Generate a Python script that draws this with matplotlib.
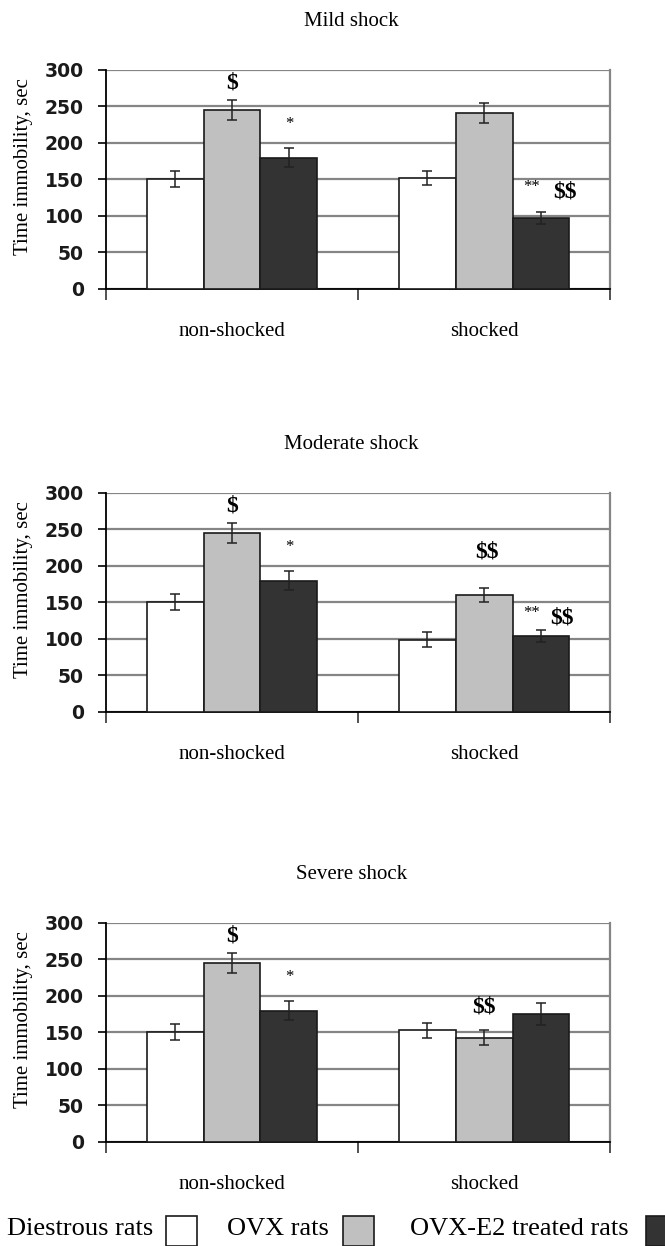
import numpy as np
import matplotlib.pyplot as plt
from matplotlib.patches import Rectangle

plt.rcParams['text.parse_math'] = False

groups = ['non-shocked', 'shocked']
series = ['Diestrous rats', 'OVX rats', 'OVX-E2 treated rats']
colors = ['white', '#c0c0c0', '#333333']
titles = ['Mild shock', 'Moderate shock', 'Severe shock']

# means per panel: [diestrous, ovx, ovx-e2], each [non-shocked, shocked]
mild_mean = [[150, 152], [245, 241], [180, 97]]
mild_err = [[11, 10], [14, 14], [13, 8]]
moderate_mean = [[150, 99], [245, 160], [180, 104]]
moderate_err = [[11, 10], [14, 10], [13, 8]]
severe_mean = [[150, 153], [245, 143], [180, 175]]
severe_err = [[11, 10], [14, 10], [13, 15]]

# significance marks: (text, x, y, size)
mild_marks = [('$', 0.0, 282, 17), ('*', 0.226, 226, 12),
              ('**', 1.19, 140, 12), ('$$', 1.32, 133, 17)]
moderate_marks = [('$', 0.0, 282, 17), ('*', 0.226, 226, 12),
                  ('$$', 1.01, 219, 17),
                  ('**', 1.19, 135, 12), ('$$', 1.31, 129, 17)]
severe_marks = [('$', 0.0, 282, 17), ('*', 0.226, 226, 12),
                ('$$', 1.0, 185, 17)]

means = [mild_mean, moderate_mean, severe_mean]
errs = [mild_err, moderate_err, severe_err]
marks = [mild_marks, moderate_marks, severe_marks]

serif = 'Liberation Serif'

fig = plt.figure(figsize=(6.65, 12.46), dpi=100)

bottoms = [0.7681, 0.4286, 0.0835]
x = np.arange(len(groups))
w = 0.226

for p in range(3):
    ax = fig.add_axes([0.1594, bottoms[p], 0.758, 0.1758])
    for i in range(3):
        ax.bar(x + (i - 1) * w, means[p][i], w, color=colors[i],
               edgecolor='#1a1a1a', linewidth=1.2, zorder=3)
        ax.errorbar(x + (i - 1) * w, means[p][i], yerr=errs[p][i], fmt='none',
                    ecolor='#222222', elinewidth=1.1, capsize=3.8,
                    capthick=1.1, zorder=4)
    for txt, tx, ty, sz in marks[p]:
        ax.text(tx, ty, txt, ha='center', va='center', fontsize=sz,
                family=serif, fontweight='bold' if '$' in txt else 'normal',
                zorder=5)

    ax.set_xlim(-0.5, 1.5)
    ax.set_ylim(0, 300)
    ax.set_yticks(np.arange(0, 301, 50))
    ax.yaxis.grid(True, color='#858585', linewidth=1.6, zorder=0)
    ax.set_axisbelow(True)
    for lbl in ax.get_yticklabels():
        lbl.set_fontfamily('DejaVu Sans')
        lbl.set_fontweight('bold')
        lbl.set_fontsize(13.5)
        lbl.set_color('#1a1a1a')
    ax.tick_params(axis='y', direction='out', length=6, width=1.2,
                   color='black', pad=10)

    ax.set_xticks(x)
    ax.set_xticklabels(groups, family=serif, fontsize=15)
    ax.tick_params(axis='x', which='major', length=0, pad=24)
    ax.set_xticks([-0.5, 0.5, 1.5], minor=True)
    ax.tick_params(axis='x', which='minor', direction='out', length=8,
                   width=1.2, color='#333333')

    ax.spines['top'].set_visible(False)
    ax.spines['right'].set_color('#858585')
    ax.spines['right'].set_linewidth(1.6)
    ax.spines['left'].set_linewidth(1.3)
    ax.spines['bottom'].set_linewidth(1.3)

    ax.set_ylabel('Time immobility, sec', family=serif, fontsize=15)
    ax.yaxis.set_label_coords(-0.145, 0.56)
    ax.text(0.487, 1.22, titles[p], transform=ax.transAxes, ha='center',
            va='center', family=serif, fontsize=15)

# legend along the bottom edge
leg_text_x = [7, 227, 410]
leg_box_x = [166, 343, 646]
for i in range(3):
    fig.text(leg_text_x[i] / 665, 1 - 1229 / 1246, series[i], family=serif,
             fontsize=19, ha='left', va='center')
    fig.patches.append(Rectangle((leg_box_x[i] / 665, 0), 31 / 665, 30 / 1246,
                                 transform=fig.transFigure, facecolor=colors[i],
                                 edgecolor='#1a1a1a', linewidth=1.2))

fig.savefig('out.png', dpi=100)
